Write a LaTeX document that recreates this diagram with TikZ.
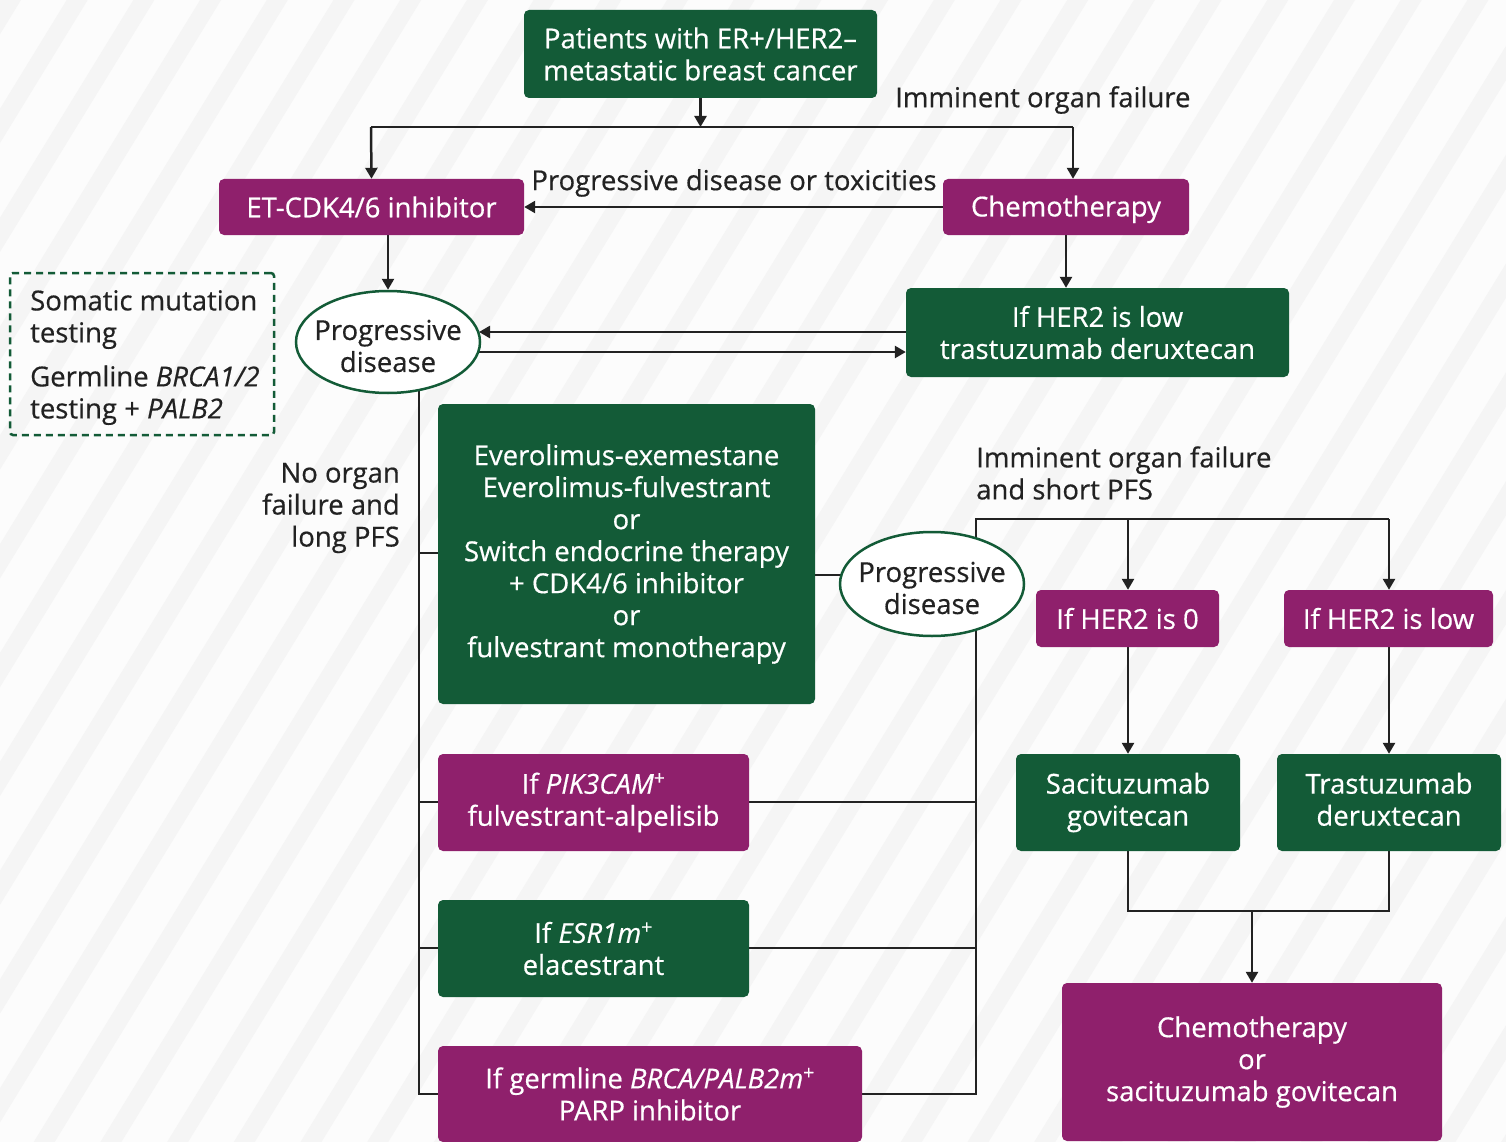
\documentclass[tikz,border=0pt]{standalone}
\usepackage{fontspec}
\setmainfont{Open Sans}[FakeBold=0.5]
\usetikzlibrary{shapes.geometric,arrows.meta,calc}
\definecolor{ink}{HTML}{222222}
\definecolor{dgreen}{HTML}{135B37}
\definecolor{dpurple}{HTML}{8F206C}
\definecolor{bgbase}{HTML}{FCFCFC}
\definecolor{bgstripe}{HTML}{F5F5F5}
\pgfdeclarelayer{bg}
\pgfdeclarelayer{lines}
\pgfsetlayers{bg,lines,main}
\newcommand\fs{\fontsize{27.5}{32}\selectfont}
\tikzset{
  base/.style={rounded corners=5pt, font=\fs, text=white, align=center, inner sep=0pt},
  gbox/.style={base, fill=dgreen},
  pbox/.style={base, fill=dpurple},
  conn/.style={draw=ink, line width=2.5pt},
  arr/.style={conn, -{Triangle[length=11pt,width=12pt]}},
  ell/.style={ellipse, draw=dgreen, line width=2.5pt, fill=white, inner sep=0pt},
  lbl/.style={font=\fs, text=ink, inner sep=0pt},
}
\begin{document}
\begin{tikzpicture}[x=1pt,y=-1pt]
\useasboundingbox (0,0) rectangle (1506,1142);
\begin{pgfonlayer}{bg}
\fill[bgbase] (0,0) rectangle (1506,1142);
\begin{scope}
\clip (0,0) rectangle (1506,1142);
\foreach \a in {0,66.7,...,2300} {
  \fill[bgstripe] (\a,0) -- (\a+21,0) -- (\a+21-700,1142) -- (\a-700,1142) -- cycle;
}
\end{scope}
\end{pgfonlayer}

% boxes
\node[gbox, minimum width=353pt, minimum height=88pt] (top) at (700.5,54) {Patients with ER+/HER2–\\metastatic breast cancer};
\node[pbox, minimum width=305pt, minimum height=56pt] (etcdk) at (371.5,207) {ET-CDK4/6 inhibitor};
\node[pbox, minimum width=246pt, minimum height=56pt, text depth=2pt] (chemo) at (1066,207) {Chemotherapy};
\node[gbox, minimum width=383pt, minimum height=89pt] (herlowA) at (1097.5,332.5) {If HER2 is low\\trastuzumab deruxtecan};
\node[ell, minimum width=184pt, minimum height=102pt] (e1) at (388,342) {};
\node[lbl, align=center] (e1t) at (388,346) {Progressive\\disease};
\node[draw=dgreen, dashed, dash pattern=on 7pt off 5pt, line width=2.5pt, rounded corners=3pt, minimum width=264pt, minimum height=162pt] (test) at (142,354) {};
\node[lbl, anchor=north west, align=left] (testtxt) at (30,290) {Somatic mutation\\testing\\[12pt]Germline \textit{BRCA1/2}\\testing + \textit{PALB2}};
\node[gbox, minimum width=377pt, minimum height=300pt] (evero) at (626.5,554) {Everolimus-exemestane\\Everolimus-fulvestrant\\or\\Switch endocrine therapy\\+ CDK4/6 inhibitor\\or\\fulvestrant monotherapy};
\node[pbox, minimum width=311pt, minimum height=97pt] (pik) at (593.5,802.5) {If \textit{PIK3CAM}\textsuperscript{+}\\fulvestrant-alpelisib};
\node[gbox, minimum width=311pt, minimum height=97pt] (esr) at (593.5,948.5) {If \textit{ESR1m}\textsuperscript{+}\\elacestrant};
\node[pbox, minimum width=424pt, minimum height=96pt] (parp) at (650,1094) {If germline \textit{BRCA/PALB2m}\textsuperscript{+}\\PARP inhibitor};
\node[ell, minimum width=184pt, minimum height=104pt] (e2) at (932,584) {};
\node[lbl, align=center] (e2t) at (932,588) {Progressive\\disease};
\node[pbox, minimum width=183pt, minimum height=57pt] (herzero) at (1127.5,618.5) {If HER2 is 0};
\node[pbox, minimum width=209pt, minimum height=57pt] (herlowB) at (1388.5,618.5) {If HER2 is low};
\node[gbox, minimum width=224pt, minimum height=97pt] (saci) at (1128,802.5) {Sacituzumab\\govitecan};
\node[gbox, minimum width=224pt, minimum height=97pt] (tras) at (1389,802.5) {Trastuzumab\\deruxtecan\vphantom{g}};
\node[pbox, minimum width=380pt, minimum height=158pt] (final) at (1252,1062) {Chemotherapy\\or\\sacituzumab govitecan};

% labels
\node[lbl, anchor=west] (l1) at (895,100) {Imminent organ failure};
\node[lbl] (l2) at (734,183) {Progressive disease or toxicities};
\node[lbl, anchor=east, align=right] (l3) at (400,508) {No organ\\failure and\\long PFS};
\node[lbl, anchor=west, align=left] (l4) at (976,473) {Imminent organ failure\\and short PFS};

% connectors
\coordinate (j1) at (371,127);
\coordinate (j2) at (1073,127);
\coordinate (sp) at (419,342);
\coordinate (b1) at (419,553);
\coordinate (b2) at (419,802);
\coordinate (b3) at (419,948);
\coordinate (b4) at (419,1094);
\coordinate (r0) at (976,519);
\coordinate (r1) at (976,802);
\coordinate (r2) at (976,948);
\coordinate (r3) at (976,1094);
\coordinate (t1) at (1128,519);
\coordinate (t2) at (1389,519);
\coordinate (m1) at (1128,911);
\coordinate (m2) at (1389,911);
\coordinate (m0) at (1252,911);
\begin{pgfonlayer}{lines}
\draw[arr] (top.south) -- (top.south |- j1);
\draw[conn] (j1) -- (j2);
\draw[arr] (j1) -- (etcdk.north);
\draw[arr] (j2) -- (j2 |- chemo.north);
\draw[arr] (chemo.west) -- (etcdk.east);
\draw[arr] (e1.north |- etcdk.south) -- (e1.north);
\draw[arr] (chemo.south) -- (chemo.south |- herlowA.north);
\draw[arr] (herlowA.west |- 0,332) -- ($(e1.center)+(91,-10)$);
\draw[arr] ($(e1.center)+(85,10)$) -- (herlowA.west |- 0,352);
\draw[conn] (sp) -- (b4) -- (parp.west |- b4);
\draw[conn] (b1) -- (evero.west |- b1);
\draw[conn] (b2) -- (pik.west |- b2);
\draw[conn] (b3) -- (esr.west |- b3);
\draw[conn] (evero.east |- 0,575) -- (e2.center |- 0,575);
\draw[conn] (t2) -- (r0) -- (r3) -- (parp.east |- r3);
\draw[conn] (pik.east |- r1) -- (r1);
\draw[conn] (esr.east |- r2) -- (r2);
\draw[arr] (t1) -- (herzero.north -| t1);
\draw[arr] (t2) -- (herlowB.north -| t2);
\draw[arr] (herzero.south -| t1) -- (saci.north);
\draw[arr] (herlowB.south -| t2) -- (tras.north);
\draw[conn] (saci.south) -- (m1) -- (m2) -- (tras.south);
\draw[arr] (m0) -- (final.north);
\end{pgfonlayer}
\end{tikzpicture}
\end{document}
